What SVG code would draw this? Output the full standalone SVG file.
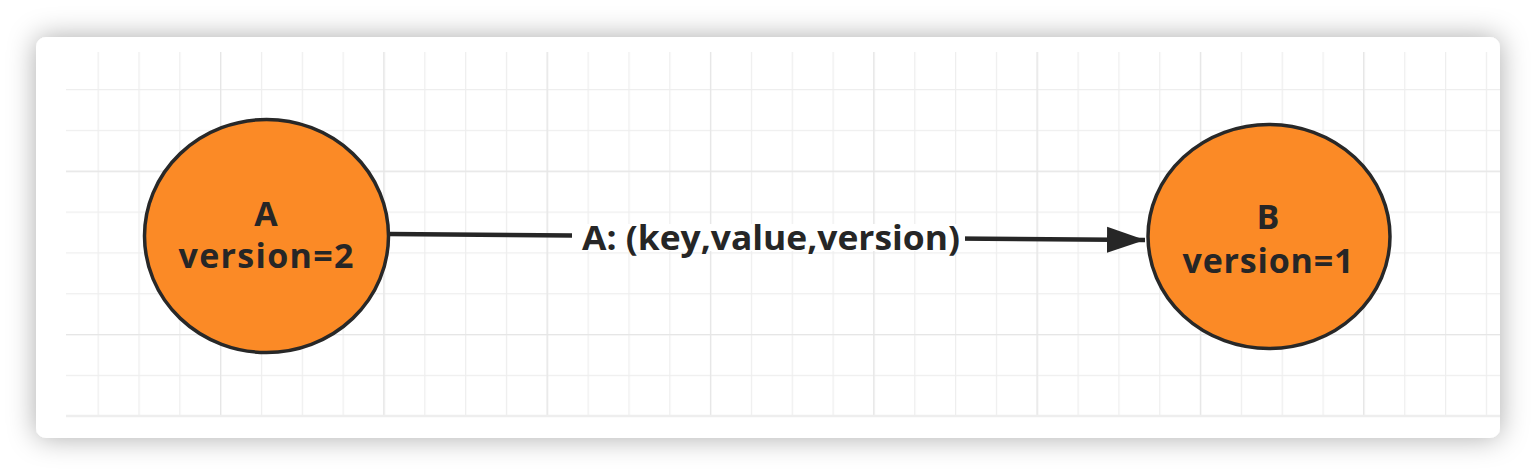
<svg xmlns="http://www.w3.org/2000/svg" width="1536" height="474" viewBox="0 0 1536 474">
<defs>
<filter id="shadow" x="-10%" y="-20%" width="120%" height="140%">
<feDropShadow dx="0" dy="0" stdDeviation="14" flood-color="#000" flood-opacity="0.33"/>
</filter>
<pattern id="minor" x="97.6" y="48.2" width="40.83" height="40.83" patternUnits="userSpaceOnUse">
<path d="M0,0 V40.83 M0,0 H40.83" fill="none" stroke="#eeeeee" stroke-width="2.5"/>
</pattern>
<pattern id="major" x="220" y="170.7" width="163.3" height="163.3" patternUnits="userSpaceOnUse">
<path d="M0,0 V163.3 M0,0 H163.3" fill="none" stroke="#e6e6e6" stroke-width="2.5"/>
</pattern>
<marker id="arrow" markerWidth="40" markerHeight="28" refX="38" refY="14" orient="auto" markerUnits="userSpaceOnUse">
<path d="M0,1 L38,14 L0,27 Z" fill="#262626"/>
</marker>
<style>
.node{fill:#fb8a26;stroke:#282828;stroke-width:3.5}
.t{font-family:"Open Sans","Noto Sans",sans-serif;font-weight:bold;fill:#262626;text-anchor:middle}
.edge{stroke:#262626;stroke-width:4.5;fill:none}
</style>
</defs>
<rect width="1536" height="474" fill="#ffffff"/>
<rect x="36" y="37" width="1464" height="401" rx="10" fill="#ffffff" filter="url(#shadow)"/>
<g id="grid">
<rect x="66" y="52" width="1434" height="365" fill="url(#minor)"/>
<rect x="66" y="52" width="1434" height="365" fill="url(#major)"/>
<line x1="66" y1="416" x2="1500" y2="416" stroke="#eeeeee" stroke-width="2.5"/>
</g>
<g id="connectors">
<line class="edge" x1="389" y1="234" x2="1145" y2="240" marker-end="url(#arrow)"/>
<rect x="572" y="224" width="393" height="27" fill="#ffffff"/>
<text class="t" x="771" y="250" font-size="34" textLength="378" lengthAdjust="spacingAndGlyphs">A: (key,value,version)</text>
</g>
<g id="nodeA">
<ellipse class="node" cx="266.5" cy="236" rx="122" ry="116.5"/>
<text class="t" x="266" y="226" font-size="34">A</text>
<text class="t" x="266" y="268" font-size="34" textLength="175" lengthAdjust="spacing">version=2</text>
</g>
<g id="nodeB">
<ellipse class="node" cx="1269" cy="236.5" rx="121" ry="112"/>
<text class="t" x="1268" y="229" font-size="34">B</text>
<text class="t" x="1268" y="273" font-size="34" textLength="171" lengthAdjust="spacing">version=1</text>
</g>
</svg>
